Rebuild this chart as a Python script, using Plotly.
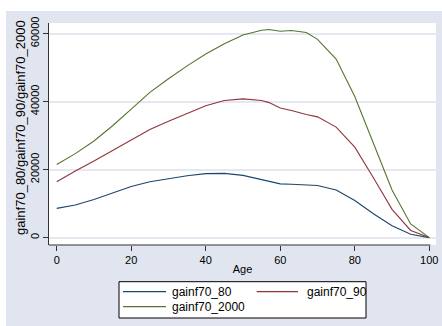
import plotly.graph_objects as go

age = [0, 5, 10, 15, 20, 25, 30, 35, 40, 45, 50, 55, 57, 60, 63, 67, 70, 75, 80, 85, 90, 95, 100]
gainf70_80 = [8600, 9600, 11200, 13000, 15000, 16400, 17400, 18200, 18800, 18900, 18300, 17100, 16600, 15800,
              15700, 15500, 15300, 14000, 10900, 7000, 3500, 1000, 0]
gainf70_90 = [16400, 19600, 22500, 25600, 28800, 31800, 34200, 36600, 38800, 40300, 40800, 40300, 39700, 38100,
              37400, 36200, 35500, 32500, 26600, 17600, 8300, 2100, 0]
gainf70_2000 = [21500, 24700, 28400, 32900, 37800, 42700, 46700, 50500, 54000, 57000, 59600, 61000, 61200, 60700,
                60900, 60300, 58300, 52500, 41500, 28000, 14000, 4000, 0]

series_names = ["gainf70_80", "gainf70_90", "gainf70_2000"]
series_values = [gainf70_80, gainf70_90, gainf70_2000]
series_colors = ["#1a476f", "#90353b", "#55752f"]

x_ticks = [0, 20, 40, 60, 80, 100]
y_ticks = [0, 20000, 40000, 60000]
x_title = "Age"
y_title = "gainf70_80/gainf70_90/gainf70_2000"

BG = "#e1e5ef"
FONT = "Liberation Sans, Arial, sans-serif"

W, H = 442, 326
L, R, T, B = 49, 6, 23, 81
PW, PH = W - L - R, H - T - B


def px(xp):
    return (xp - L) / PW


def py(yp):
    return (H - B - yp) / PH


fig = go.Figure()
for name, vals, col in zip(series_names, series_values, series_colors):
    fig.add_trace(go.Scatter(x=age, y=vals, mode="lines", name=name,
                             line=dict(color=col, width=1.1), showlegend=False))

shapes = [
    # white strips around the graph region
    dict(type="rect", xref="paper", yref="paper", x0=px(-5), x1=px(W + 5), y0=py(11), y1=py(-5),
         fillcolor="white", line=dict(width=0), layer="below"),
    dict(type="rect", xref="paper", yref="paper", x0=px(-5), x1=px(6), y0=py(H + 5), y1=py(-5),
         fillcolor="white", line=dict(width=0), layer="below"),
    # x axis line
    dict(type="line", xref="x", yref="paper", x0=-2.07, x1=100.3, y0=0, y1=0,
         line=dict(color="#333", width=1.2)),
    # legend box
    dict(type="rect", xref="paper", yref="paper", x0=px(119), x1=px(366), y0=py(318), y1=py(281.7),
         fillcolor="white", line=dict(color="black", width=1)),
]
annotations = [
    dict(text=y_title, xref="paper", yref="paper", x=px(20), y=py(128), xanchor="center", yanchor="middle",
         textangle=-90, showarrow=False, font=dict(size=13, family=FONT, color="black")),
]
legend_slots = [(123, 166, 170, 291.7), (256.7, 298, 305, 291.7), (123, 166, 170, 306.7)]
for name, col, (lx0, lx1, tx, ly) in zip(series_names, series_colors, legend_slots):
    shapes.append(dict(type="line", xref="paper", yref="paper", x0=px(lx0), x1=px(lx1), y0=py(ly), y1=py(ly),
                       line=dict(color=col, width=1.2)))
    annotations.append(dict(text=name, xref="paper", yref="paper", x=px(tx), y=py(ly), xanchor="left",
                            yanchor="middle", showarrow=False, font=dict(size=12, family=FONT, color="black")))

fig.update_layout(
    width=W, height=H,
    margin=dict(l=L, r=R, t=T, b=B),
    paper_bgcolor=BG, plot_bgcolor="white",
    font=dict(family=FONT, size=11, color="black"),
    showlegend=False,
    xaxis=dict(range=[-2.07, 101.8], tickvals=x_ticks, ticks="outside", ticklen=5, tickcolor="#333",
               showgrid=False, zeroline=False, showline=False, automargin=False,
               title=dict(text=x_title, font=dict(size=11), standoff=0), tickfont=dict(size=11)),
    yaxis=dict(range=[-2176, 63110], tickvals=y_ticks, tickformat="d", ticks="outside", ticklen=5,
               tickcolor="#333", tickangle=-90, showgrid=True, gridcolor="#e6e7ef", gridwidth=1.5,
               zeroline=False, showline=True, linecolor="#333", linewidth=1.2, automargin=False,
               tickfont=dict(size=11)),
    shapes=shapes,
    annotations=annotations,
)

fig.write_html("out.html", config={"displayModeBar": False},
               post_script="document.body.style.margin='0';document.body.style.overflow='hidden';")
